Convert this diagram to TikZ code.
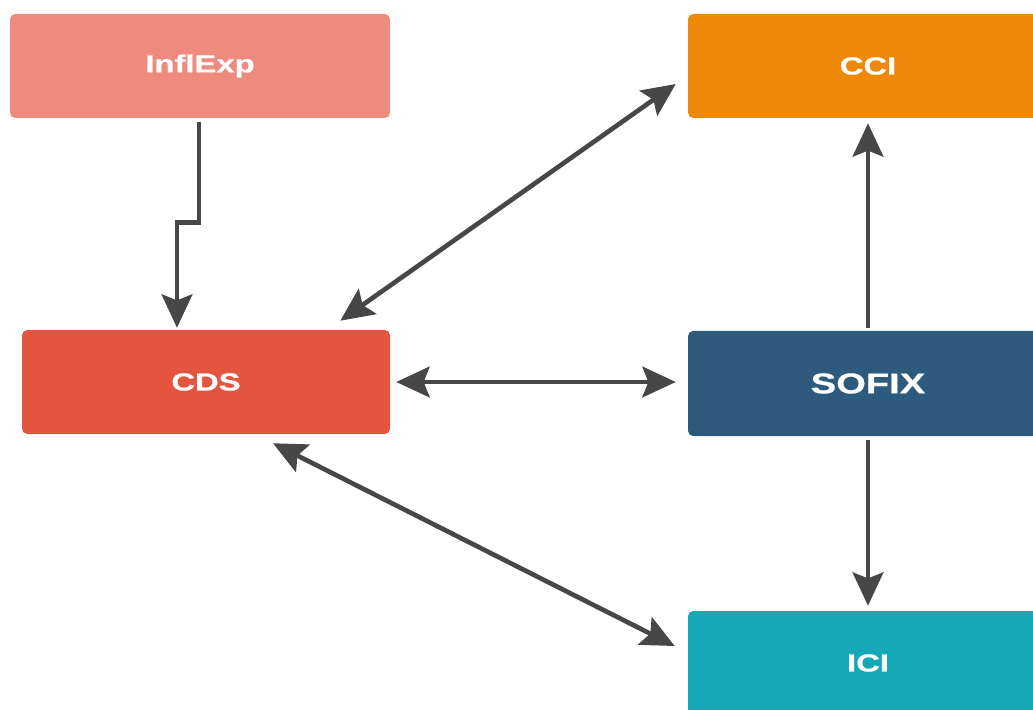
\documentclass[tikz,border=0pt]{standalone}
\usepackage{fontspec}
\usepackage{xcolor}
\usepackage{tikz}
\usetikzlibrary{arrows.meta}

\newfontfamily\boxfont[FakeStretch = 1.33, FakeBold = 0.6]{Liberation Sans}

\definecolor{inflcol}{HTML}{EE8B7E}
\definecolor{ccicol}{HTML}{EE8808}
\definecolor{cdscol}{HTML}{E5543F}
\definecolor{sofixcol}{HTML}{2E5B7D}
\definecolor{icicol}{HTML}{15A8B6}
\definecolor{linkcol}{HTML}{474747}

\begin{document}
\begin{tikzpicture}[x = 0.75pt, y = -0.75pt,
    box/.style = {rectangle, rounded corners = 4pt, draw = none, inner sep = 0pt,
                  text = white, font = \boxfont\bfseries\fontsize{18.5}{20}\selectfont},
    link/.style = {draw = linkcol, line width = 3.5pt,
                   arrows = {-Stealth[length = 25pt, width = 23pt, inset = 4.5pt]}},
    twolink/.style = {link, arrows = {Stealth[length = 25pt, width = 23pt, inset = 4.5pt]-Stealth[length = 25pt, width = 23pt, inset = 4.5pt]}}]
    \useasboundingbox (0, 0) rectangle (1033, 710);
    
    % Boxes
    \node[box, fill = inflcol, minimum width = 285pt, minimum height = 78pt] (inflexp) at (200, 66) {InflExp};
    %
    \node[box, fill = ccicol, minimum width = 270pt, minimum height = 78pt] (cci) at (868, 66) {CCI};
    %
    \node[box, fill = cdscol, minimum width = 276pt, minimum height = 78pt] (cds) at (206, 382) {CDS};
    %
    \node[box, fill = sofixcol, minimum width = 270pt, minimum height = 79pt,
          font = \boxfont\bfseries\fontsize{21.5}{24}\selectfont] (sofix) at (868, 383.5) {SOFIX};
    %
    \node[box, fill = icicol, minimum width = 270pt, minimum height = 78pt] (ici) at (868, 663) {ICI};
    
    % Arrows
    \draw[link] ([shift = {(-1, 4)}]inflexp.south) -- ++(0, 100) -- ++(-22, 0) -- ([shift = {(-29, -2)}]cds.north);
    %
    \draw[twolink] ([shift = {(-50, -9)}]cds.north east) -- ([shift = {(-12, 18)}]cci.west);
    %
    \draw[twolink] ([shift = {(6, 0)}]cds.east) -- ([shift = {(-12, 0)}]cds.east -| sofix.west);
    %
    \draw[twolink] ([shift = {(67, 9)}]cds.south) -- ([shift = {(-13, -17)}]ici.west);
    %
    \draw[link] ([shift = {(0, -3)}]sofix.north) -- ([shift = {(0, 5)}]cci.south);
    %
    \draw[link] ([shift = {(0, 4)}]sofix.south) -- ([shift = {(0, -5)}]ici.north);
\end{tikzpicture}
\end{document}
